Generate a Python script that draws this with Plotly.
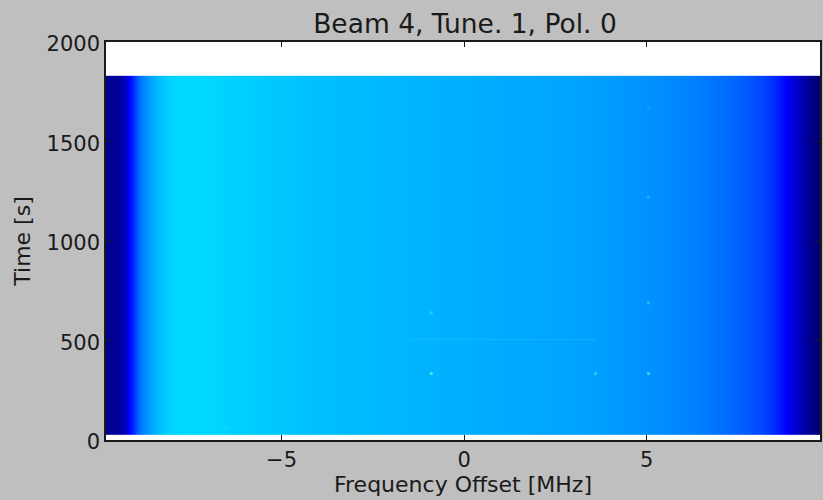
import plotly.graph_objects as go

title = "Beam 4, Tune. 1, Pol. 0"
x_label = "Frequency Offset [MHz]"
y_label = "Time [s]"

freq_mhz = [-9.85, -9.6, -9.45, -9.35, -9.25, -9.18, -9.1, -9.0, -8.9, -8.8, -8.7, -8.6, -8.5, -8.4, -8.3, -8.2,
            -8.1, -8.0, -7.8, -7.5, -7.0, -6.0, -5.0, -4.0, -3.0, -2.0, -1.0, 0.0,
            1.0, 2.0, 3.0, 4.0, 5.0, 6.0, 6.5, 7.1, 7.5, 8.0, 8.3, 8.5, 8.65, 8.82, 8.95, 9.1,
            9.2, 9.3, 9.4, 9.5, 9.6, 9.7, 9.85]
power = [0.032, 0.036, 0.043, 0.055, 0.075, 0.110, 0.140, 0.190, 0.222, 0.245, 0.262, 0.276, 0.290, 0.302, 0.312, 0.320,
         0.326, 0.330, 0.334, 0.336, 0.333, 0.324, 0.316, 0.309, 0.304, 0.300, 0.296, 0.292,
         0.288, 0.284, 0.279, 0.272, 0.262, 0.248, 0.239, 0.225, 0.213, 0.190, 0.172, 0.155, 0.135, 0.110, 0.092, 0.075,
         0.062, 0.050, 0.038, 0.028, 0.018, 0.010, 0.004]
time_edges = [27, 925, 1830]

spot_freq = [-0.9, -0.9, 3.6, 5.05, 5.05, 5.05, 5.05, -6.5]
spot_time = [334, 640, 334, 334, 690, 1220, 1670, 60]
spot_alpha = [0.85, 0.45, 0.55, 0.65, 0.4, 0.3, 0.15, 0.2]
streak_freq = [-1.5, 3.6]
streak_time = [505, 505]

x_ticks = [-5, 0, 5]
x_tick_labels = ["\u22125", "0", "5"]
y_ticks = [0, 500, 1000, 1500, 2000]

font = "DejaVu Sans"
ink = "#1a1a1a"
jet = [[0, "#000060"], [0.11, "#0000ff"], [0.375, "#00ffff"], [0.64, "#ffff00"], [0.91, "#ff0000"], [1, "#7f0000"]]

fig = go.Figure()
fig.add_trace(go.Heatmap(x=freq_mhz, y=time_edges, z=[power, power], colorscale=jet, zmin=0, zmax=1,
                         zsmooth="best", showscale=False, hoverinfo="skip"))
fig.add_trace(go.Scatter(x=streak_freq, y=streak_time, mode="lines", hoverinfo="skip",
                         line=dict(color="rgba(60,220,250,0.22)", width=1.5)))
fig.add_trace(go.Scatter(x=spot_freq, y=spot_time, mode="markers", hoverinfo="skip",
                         marker=dict(size=3.5, color=[f"rgba(70,240,235,{a})" for a in spot_alpha], line=dict(width=0))))

axis = dict(showgrid=False, zeroline=False, showline=True, linecolor=ink, linewidth=1.5, mirror="allticks",
            ticks="inside", ticklen=5, tickcolor=ink, tickwidth=1, tickfont=dict(size=21, family=font, color=ink))
fig.update_layout(
    width=823, height=500, showlegend=False,
    paper_bgcolor="#bfbfbf", plot_bgcolor="white",
    margin=dict(l=106, r=1, t=42, b=59.5),
    title=dict(text=title, x=465/823, y=1-24/500, xanchor="center", yanchor="middle",
               font=dict(size=26.5, family=font, color=ink)),
    xaxis=dict(axis, range=[-9.81, 9.75], tickvals=x_ticks, ticktext=x_tick_labels,
               title=dict(text=x_label, font=dict(size=22, family=font, color=ink), standoff=4)),
    yaxis=dict(axis, range=[0, 2000], tickvals=y_ticks, ticklabelshift=2,
               title=dict(text=y_label, font=dict(size=22, family=font, color=ink), standoff=10)),
)
fig.write_html("out.html", config=dict(displayModeBar=False),
               post_script="document.body.style.margin='0';document.body.style.background='#bfbfbf';")
